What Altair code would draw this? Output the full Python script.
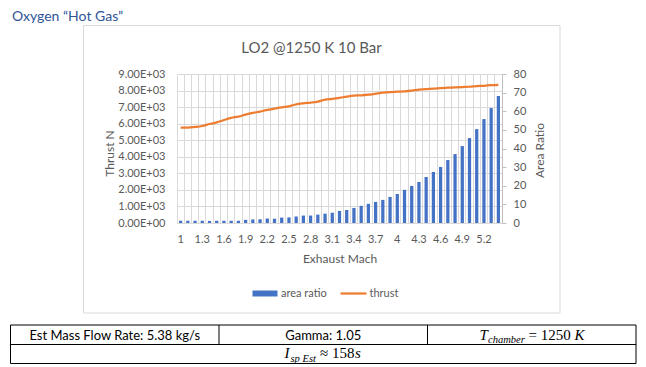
import altair as alt
import pandas as pd

# ---------------- data ----------------
mach = [1.0, 1.1, 1.2, 1.3, 1.4, 1.5, 1.6, 1.7, 1.8, 1.9,
        2.0, 2.1, 2.2, 2.3, 2.4, 2.5, 2.6, 2.7, 2.8, 2.9,
        3.0, 3.1, 3.2, 3.3, 3.4, 3.5, 3.6, 3.7, 3.8, 3.9,
        4.0, 4.1, 4.2, 4.3, 4.4, 4.5, 4.6, 4.7, 4.8, 4.9,
        5.0, 5.1, 5.2, 5.3, 5.4]
area_ratio = [1.2, 1.2, 1.2, 1.2, 1.1, 1.2, 1.2, 1.2, 1.2, 1.7,
              1.9, 2.0, 2.4, 2.3, 2.9, 3.0, 3.5, 4.0, 4.0, 4.5,
              5.0, 5.5, 6.5, 7.0, 8.1, 9.2, 10.3, 11.3, 12.4, 14.0,
              15.6, 17.8, 19.9, 22.0, 24.7, 27.4, 30.1, 33.8, 37.0, 41.3,
              45.6, 50.4, 55.8, 61.7, 68.2]
thrust = [5760, 5760, 5800, 5860, 5980, 6080, 6220, 6350, 6430, 6550,
          6650, 6730, 6830, 6910, 6990, 7050, 7170, 7230, 7270, 7330,
          7450, 7500, 7560, 7630, 7690, 7710, 7750, 7810, 7870, 7910,
          7930, 7950, 7990, 8050, 8090, 8110, 8150, 8170, 8190, 8210,
          8230, 8270, 8290, 8330, 8350]
thrust_ticks = [0, 1000, 2000, 3000, 4000, 5000, 6000, 7000, 8000, 9000]
ratio_ticks = [0, 10, 20, 30, 40, 50, 60, 70, 80]

df = pd.DataFrame({
    "mach": [f"{m:g}" for m in mach],
    "area ratio": area_ratio,
    "thrust": thrust,
})

W, H = 325, 149
GRID = "#D9D9D9"
TXT = "#595959"
BLUE = "#4472C4"
ORANGE = "#ED7D31"

x_order = list(df["mach"])

# bars: area ratio on right axis; x axis here provides the vertical gridlines
bars = alt.Chart(df).mark_bar(color=BLUE, width=alt.RelativeBandSize(0.45)).encode(
    x=alt.X("mach:O", sort=x_order,
            scale=alt.Scale(paddingInner=0, paddingOuter=0),
            axis=alt.Axis(orient="bottom", grid=True, bandPosition=0,
                          gridColor=GRID, gridWidth=1,
                          labels=False, ticks=False, domain=False, title="")),
    y=alt.Y("area ratio:Q",
            scale=alt.Scale(domain=[0, 80], nice=False),
            axis=alt.Axis(orient="right", values=ratio_ticks, grid=False,
                          domain=True, domainColor="#BFBFBF", ticks=True,
                          tickColor="#BFBFBF", tickSize=4, labelPadding=7,
                          title="Area Ratio", titleX=37, titleY=76,
                          titleAngle=270, titleAlign="center",
                          titleBaseline="middle")),
)

line = alt.Chart(df).mark_line(color=ORANGE, strokeWidth=2.25,
                               interpolate="monotone").encode(
    x=alt.X("mach:O", sort=x_order,
            axis=alt.Axis(orient="bottom", grid=False, ticks=False,
                          tickSize=0, domain=False,
                          labelAngle=0, labelPadding=10, labelBaseline="top",
                          labelExpr="(round(toNumber(datum.value)*10) - 10) % 3 == 0 ? datum.value : ''",
                          title="Exhaust Mach", titleY=35,
                          titleBaseline="middle")),
    y=alt.Y("thrust:Q",
            scale=alt.Scale(domain=[0, 9000], nice=False),
            axis=alt.Axis(orient="left", values=thrust_ticks, grid=True,
                          gridColor=GRID, gridWidth=1, domain=False,
                          ticks=False, tickSize=0, labelPadding=12,
                          labelExpr="datum.value == 0 ? '0.00E+00' : format(datum.value/1000, '.2f') + 'E+03'",
                          title="Thrust N", titleX=-68, titleY=79,
                          titleAngle=270, titleAlign="center",
                          titleBaseline="middle")),
)

base = alt.Chart(pd.DataFrame({"k": [0]}))


def txt(text, x, y, size, color="#000000", font="Lato", style="normal",
        align="left"):
    return base.mark_text(text=text, fontSize=size, color=color, font=font,
                          fontStyle=style, align=align,
                          baseline="alphabetic").encode(
        x=alt.value(x), y=alt.value(y))


def box(x1, x2, y1, y2, color, sw=1):
    return base.mark_rect(fill="white", fillOpacity=0, stroke=color,
                          strokeWidth=sw).encode(
        x=alt.value(x1), x2=alt.value(x2), y=alt.value(y1), y2=alt.value(y2))


def rule(x1, x2, y1, y2, color, sw=1):
    return base.mark_rule(color=color, strokeWidth=sw).encode(
        x=alt.value(x1), x2=alt.value(x2), y=alt.value(y1), y2=alt.value(y2))


# plot origin is at page (177, 74)
OX, OY = 177, 74

decor = [
    # header
    txt("Oxygen \u201cHot Gas\u201d", 12 - OX, 20.5 - OY, 14, color="#2F5597"),
    # chart frame
    box(83.5 - OX, 560 - OX, 25.5 - OY, 313 - OY, GRID),
    # chart title
    txt("LO2 @1250 K 10 Bar", 311.5 - OX, 53 - OY, 15, color=TXT,
        align="center"),
    # legend
    base.mark_rect(color=BLUE).encode(
        x=alt.value(252.5 - OX), x2=alt.value(277.5 - OX),
        y=alt.value(290.5 - OY), y2=alt.value(296.5 - OY)),
    txt("area ratio", 281 - OX, 297 - OY, 11, color=TXT),
    rule(340.5 - OX, 366.5 - OX, 293.5 - OY, 293.5 - OY, ORANGE, 2.25),
    txt("thrust", 369.5 - OX, 297 - OY, 11, color=TXT),
    # table
    box(10.5 - OX, 636 - OX, 325 - OY, 363.5 - OY, "#000000"),
    rule(10.5 - OX, 636 - OX, 344.5 - OY, 344.5 - OY, "#000000"),
    rule(219 - OX, 219 - OX, 325 - OY, 344.5 - OY, "#000000"),
    rule(427.5 - OX, 427.5 - OX, 325 - OY, 344.5 - OY, "#000000"),
    txt("Est Mass Flow Rate: 5.38 kg/s", 114.75 - OX, 339.5 - OY, 13,
        align="center"),
    txt("Gamma: 1.05", 323.25 - OX, 339.5 - OY, 13, align="center"),
    # T_chamber = 1250 K
    txt("T", 479.5 - OX, 339.5 - OY, 15, font="Liberation Serif",
        style="italic"),
    txt("chamber", 488 - OX, 342.5 - OY, 10.5, font="Liberation Serif",
        style="italic"),
    txt("= 1250", 528.5 - OX, 339.5 - OY, 15, font="Liberation Serif"),
    txt("K", 574.5 - OX, 339.5 - OY, 15, font="Liberation Serif",
        style="italic"),
    # I_sp Est ≈ 158s
    txt("I", 284.5 - OX, 358 - OY, 15, font="Liberation Serif",
        style="italic"),
    txt("sp Est", 290.5 - OX, 361.5 - OY, 10.5, font="Liberation Serif",
        style="italic"),
    txt("\u2248 158", 320 - OX, 358 - OY, 15, font="Liberation Serif"),
    txt("s", 355 - OX, 358 - OY, 15, font="Liberation Serif",
        style="italic"),
]

chart = alt.layer(bars, line, *decor).resolve_scale(
    y="independent"
).resolve_axis(
    x="independent", y="independent"
).properties(
    width=W, height=H,
    autosize=alt.AutoSizeParams(type="none"),
    padding={"left": 169, "top": 66, "right": 136, "bottom": 143},
    background="white",
).configure(
    font="Lato"
).configure_view(
    strokeWidth=0
).configure_axis(
    labelColor=TXT, titleColor=TXT, labelFontSize=11, titleFontSize=12,
    titleFontWeight="normal", labelFont="Lato", titleFont="Lato",
)

chart.save("out.html", embed_options={"renderer": "svg", "actions": False})
